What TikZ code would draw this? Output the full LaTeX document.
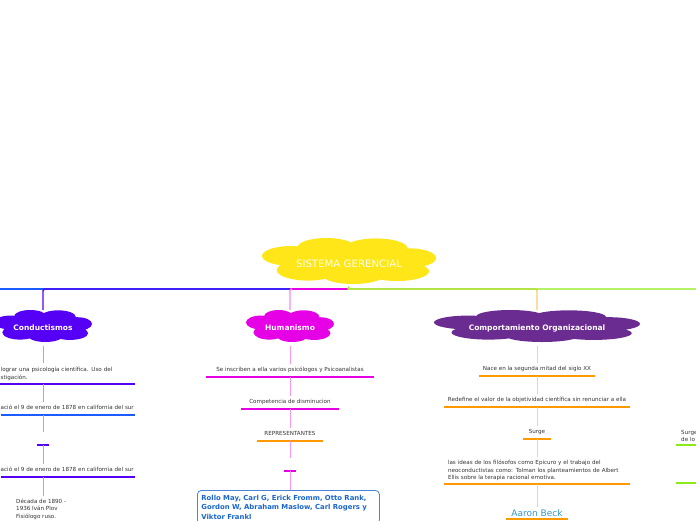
\documentclass[tikz,border=0pt]{standalone}
\usepackage{fontspec}
\setmainfont{DejaVu Sans}
\usetikzlibrary{positioning, backgrounds}
\definecolor{sunY}{HTML}{FFE619}
\definecolor{limeG}{HTML}{8CEB14}
\definecolor{farB}{HTML}{1A5CFF}
\definecolor{condP}{HTML}{5500F5}
\definecolor{magB}{HTML}{E600E6}
\definecolor{compP}{HTML}{6B2C91}
\definecolor{orangeB}{HTML}{FF9900}
\definecolor{noteGray}{HTML}{333333}
\definecolor{repBlue}{HTML}{1A66CC}
\definecolor{beckBlue}{HTML}{3399CC}
\newcommand{\notesize}{\fontsize{5.6}{8}\selectfont}

\begin{document}
\begin{tikzpicture}[x=1pt, y=-1pt,
  idea/.style={inner sep=0pt, text=white, font=\bfseries\fontsize{7.5}{9}\selectfont},
  note/.style={inner xsep=0pt, inner ysep=3.5pt, font=\notesize, text=noteGray},
  oneline/.style={text height=4.1pt, text depth=1.4pt},
  rbox/.style={draw=repBlue!80, fill=white, rounded corners=4pt, line width=0.8pt,
               align=left, text width=174pt, inner xsep=4pt, inner ysep=4.5pt,
               font=\bfseries\fontsize{6.9}{9.6}\selectfont, text=repBlue},
  uline/.style={line width=2.6pt},
  link/.style={line width=0.9pt},
  trunk/.style={line width=1.4pt}
]
\useasboundingbox (0,0) rectangle (696,520);

% main ideas
\node[idea, minimum width=174pt, minimum height=46pt, text=white!90!yellow,
      font=\fontsize{10.2}{11}\selectfont] (root) at (349,263.5) {SISTEMA GERENCIAL};
\node[idea, minimum width=98pt, minimum height=36pt] (cond) at (43,328) {Conductismos};
\node[idea, minimum width=88pt, minimum height=36pt] (hum) at (290,328) {Humanismo};
\node[idea, minimum width=206pt, minimum height=36pt] (comp) at (537,328) {Comportamiento Organizacional};

% cloud puffs behind the main ideas
\begin{scope}[on background layer]
\foreach \n/\w/\h/\d/\c in {root/87/23/2.5/sunY, cond/49/16/2/condP, hum/44/16/2/magB, comp/103/16/2/compP}
  \fill[\c, shift={([yshift=\d pt]\n.center)}, x=\w pt, y=-\h pt]
    (0,0) ellipse [x radius=0.7, y radius=0.6]
    (-0.67,-0.22) ellipse [x radius=0.33, y radius=0.43]
    (-0.26,-0.6) ellipse [x radius=0.33, y radius=0.4]
    (0.31,-0.56) ellipse [x radius=0.36, y radius=0.42]
    (0.7,-0.13) ellipse [x radius=0.3, y radius=0.42]
    (-0.47,0.4) ellipse [x radius=0.36, y radius=0.45]
    (0.05,0.6) ellipse [x radius=0.36, y radius=0.4]
    (0.55,0.45) ellipse [x radius=0.37, y radius=0.42];
\end{scope}

% connectors from the root
\coordinate (hub) at (348,289);
\coordinate (farleft) at (-10,289);
\coordinate (farright) at (706,289);
\draw[trunk, farB] (hub) -- (farleft);
\draw[trunk, condP, rounded corners=2pt] (hub) -| (cond.north);
\draw[trunk, magB] (hub) -- (hub -| hum.north);
\draw[trunk, magB!45, rounded corners=2pt] ([xshift=2pt]hub -| hum.north) -| (hum.north);
\draw[trunk, orangeB!55, rounded corners=2pt] (hub) -| (comp.north);
\draw[trunk, limeG] (root.south) -- (hub) -- (farright);

% Conductismos
\node[note, align=left, anchor=south west, text width=134pt] (cond1) at (0.5,384)
  {lograr una psicología científica. Uso del\\stigación.};
\node[note, oneline, anchor=south west, text width=134pt] (cond2) at (0.5,415)
  {ació el 9 de enero de 1878 en california del sur};
\node[note, oneline, anchor=south, minimum width=11pt] (cbar) at (43,445) {};
\node[note, oneline, anchor=south west, text width=134pt] (cond3) at (0.5,477)
  {ació el 9 de enero de 1878 en california del sur};
\node[note, align=left, anchor=north west, font=\fontsize{5.6}{7.2}\selectfont] (cond4) at (16,495.5)
  {Década de 1890 -\\1936 Iván Plov\\Fisiólogo ruso.};

% Humanismo
\node[note, oneline, anchor=south, minimum width=168pt] (hum1) at (290,377)
  {Se inscriben a ella varios psicólogos y Psicoanalistas};
\node[note, oneline, anchor=south, minimum width=97pt] (hum2) at (290,409)
  {Competencia de disminucion};
\node[note, oneline, anchor=south, minimum width=66pt] (hum3) at (290,441)
  {REPRESENTANTES};
\node[note, oneline, anchor=south, minimum width=11pt] (hbar) at (290,471) {};
\node[rbox, anchor=north west] (reps) at (197,490)
  {Rollo May, Carl G, Erick Fromm, Otto Rank,\\Gordon W, Abraham Maslow, Carl Rogers y\\Viktor Frankl};

% Comportamiento Organizacional
\node[note, oneline, anchor=south, minimum width=116pt] (comp1) at (537,376)
  {Nace en la segunda mitad del siglo XX};
\node[note, oneline, anchor=south, minimum width=185pt] (comp2) at (537,407)
  {Redefine el valor de la objetividad científica sin renunciar a ella};
\node[note, oneline, anchor=south, minimum width=28pt] (comp3) at (537,439)
  {Surge};
\node[note, align=left, anchor=south, text width=178pt, inner xsep=3.5pt,
      font=\fontsize{5.6}{7.1}\selectfont] (comp4) at (537,484)
  {las ideas de los filósofos como Epicuro y el trabajo del\\neoconductistas como: Tolman los planteamientos de Albert\\Ellis sobre la terapia racional emotiva.};
\node[note, anchor=south, minimum width=61pt, inner ysep=2.5pt,
      font=\fontsize{9}{10}\selectfont, text=beckBlue] (beck) at (537,519)
  {Aaron Beck};

% right branch, cut by the page
\node[note, align=left, anchor=south west, text width=30pt, inner xsep=5pt,
      font=\fontsize{5.6}{6.4}\selectfont] (side1) at (676,445)
  {Surge\\de lo};
\coordinate (side2) at (676,483);

% underlines
\foreach \n/\c in {cond1/condP, cond2/farB, cbar/condP, cond3/condP,
                   hum1/magB, hum2/magB, hum3/orangeB, hbar/magB,
                   comp1/orangeB, comp2/orangeB, comp3/orangeB, comp4/orangeB, beck/orangeB}
  \draw[uline, \c] (\n.south west) -- (\n.south east);
\draw[uline, condP] (cond1.south west) -- ++(-5,0);
\draw[uline, limeG] (side1.south west) -- (side1.south east);
\draw[uline, limeG] (side2) -- ++(30,0);

% links inside the branches
\foreach \a/\b in {cond/cond1, cond1/cond2, cond2/cbar, cbar/cond3, cond3/cond4}
  \draw[link, condP!40] (cond.center |- \a.south) -- (cond.center |- \b.north);
\foreach \a/\b in {hum/hum1, hum1/hum2, hum2/hum3, hum3/hbar, hbar/reps}
  \draw[link, magB!40] (hum.center |- \a.south) -- (hum.center |- \b.north);
\foreach \a/\b in {comp/comp1, comp1/comp2, comp2/comp3, comp3/comp4, comp4/beck}
  \draw[link, orangeB!45] (comp.center |- \a.south) -- (comp.center |- \b.north);
\end{tikzpicture}
\end{document}
